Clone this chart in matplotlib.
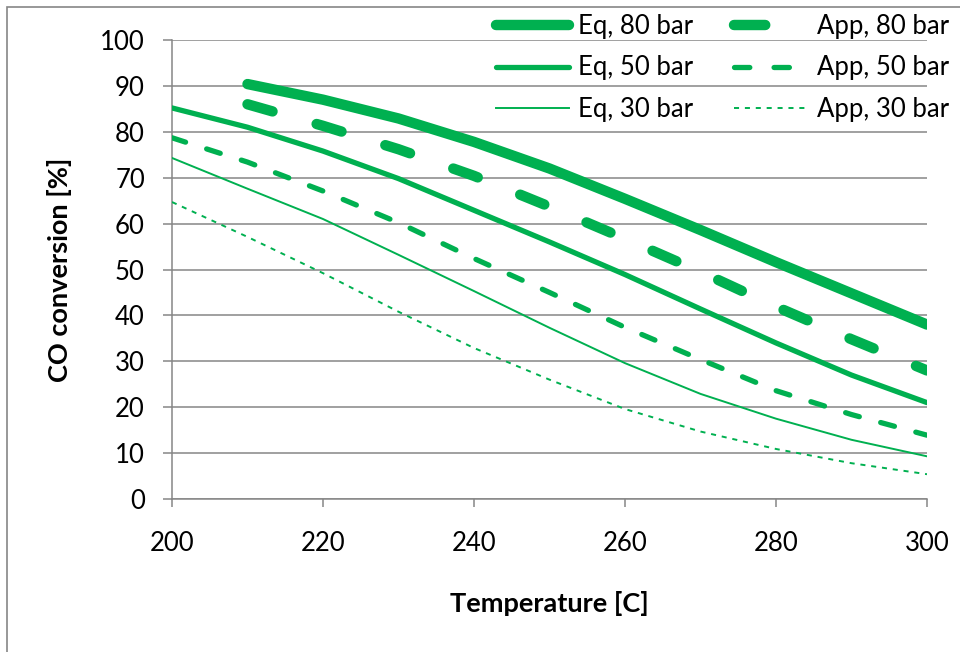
import matplotlib.pyplot as plt
import matplotlib
from matplotlib.patches import Rectangle
from matplotlib.lines import Line2D
import numpy as np

matplotlib.rcParams['font.family'] = ['Lato', 'DejaVu Sans']

# temperatures [C]
temp = [200, 210, 220, 230, 240, 250, 260, 270, 280, 290, 300]

# CO conversion [%], equilibrium and approach values
eq80 = [np.nan, 90.4, 87.0, 82.9, 77.8, 72.0, 65.4, 58.6, 51.6, 44.8, 38.0]
app80 = [np.nan, 86.0, 81.3, 76.2, 70.4, 63.7, 56.7, 49.5, 41.9, 34.8, 28.0]
eq50 = [85.2, 81.0, 75.8, 69.8, 62.9, 56.0, 48.9, 41.4, 34.0, 27.0, 21.0]
app50 = [78.7, 73.4, 67.1, 60.2, 52.4, 45.0, 37.4, 30.4, 23.6, 18.4, 13.9]
eq30 = [74.3, 67.6, 61.0, 53.2, 45.3, 37.3, 29.6, 22.9, 17.5, 12.9, 9.3]
app30 = [64.7, 57.1, 49.2, 40.8, 32.9, 26.0, 19.6, 14.7, 10.9, 7.8, 5.4]

x_ticks = [200, 220, 240, 260, 280, 300]
y_ticks = [0, 10, 20, 30, 40, 50, 60, 70, 80, 90, 100]

green = '#00B050'
grey = '#868686'
W, H = 960, 652
fs = 18.5

fig = plt.figure(figsize=(W / 100, H / 100), dpi=100)
ax = fig.add_axes([172 / W, 1 - 499 / H, (927 - 172) / W, (499 - 40) / H])

# outer chart border
fig.patches.append(Rectangle((7 / W, -0.1), 1.2, 1 - 7 / H + 0.1,
                             transform=fig.transFigure, fill=False,
                             edgecolor=grey, linewidth=1.2))

ax.plot(temp, eq80, color=green, lw=7.5, solid_capstyle='round', zorder=3)
ax.plot(temp, app80, color=green, lw=7.5, dashes=(2.5, 4.4), dash_capstyle='round', zorder=3)
ax.plot(temp, eq50, color=green, lw=3.8, solid_capstyle='round', zorder=3)
ax.plot(temp, app50, color=green, lw=3.8, dashes=(2.7, 4.2), dash_capstyle='round', zorder=3)
ax.plot(temp, eq30, color=green, lw=1.4, zorder=3)
ax.plot(temp, app30, color=green, lw=1.4, dashes=(2.6, 3.0), zorder=3)

ax.set_xlim(200, 300)
ax.set_ylim(0, 100)
ax.set_xticks(x_ticks)
ax.set_yticks(y_ticks)
ax.yaxis.grid(True, color=grey, lw=1.1)
ax.set_axisbelow(True)
for s in ['top', 'right']:
    ax.spines[s].set_visible(False)
for s in ['left', 'bottom']:
    ax.spines[s].set_color(grey)
    ax.spines[s].set_linewidth(1.1)
ax.tick_params(axis='y', length=6.5, width=1.1, color=grey, pad=13, labelsize=fs)
ax.tick_params(axis='x', length=6, width=1.1, color=grey, pad=17, labelsize=fs)

ax.set_xlabel('Temperature [C]', fontsize=19.5, fontweight='bold', va='center')
ax.xaxis.set_label_coords(0.5, -(603 - 499) / 459)
ax.set_ylabel('CO conversion [%]', fontsize=19.5, fontweight='bold', va='center')
ax.yaxis.set_label_coords(-(172 - 60) / 755, 0.5)

# legend keys (dash patterns set so the short key looks like the original)
keys = [
    Line2D([], [], color=green, lw=7.5, solid_capstyle='round'),
    Line2D([], [], color=green, lw=3.8, solid_capstyle='round'),
    Line2D([], [], color=green, lw=1.4),
    Line2D([], [], color=green, lw=7.5, dashes=(3.0, 5.0), dash_capstyle='round'),
    Line2D([], [], color=green, lw=3.8, dashes=(2.9, 4.6), dash_capstyle='round'),
    Line2D([], [], color=green, lw=1.4, dashes=(2.6, 3.0)),
]
names = ['Eq, 80 bar', 'Eq, 50 bar', 'Eq, 30 bar', 'App, 80 bar', 'App, 50 bar', 'App, 30 bar']
ax.legend(keys, names, ncol=2,
          loc='center left', bbox_to_anchor=(496 / W, 1 - 68 / H),
          bbox_transform=fig.transFigure, frameon=False, fontsize=fs,
          borderpad=0, borderaxespad=0, handlelength=2.85, handletextpad=0.35,
          columnspacing=1.6, labelspacing=0.64)

plt.savefig('out.png', dpi=100)
plt.close()
